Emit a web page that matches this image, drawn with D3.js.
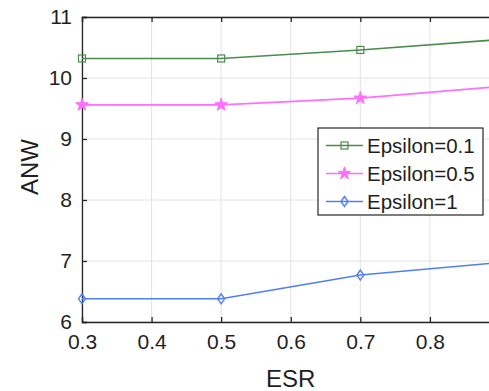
<!DOCTYPE html>
<html><head><meta charset="utf-8">
<script src="https://cdn.jsdelivr.net/npm/d3@7"></script>
<style>body{margin:0;background:#fff}svg{display:block}text{font-family:"Liberation Sans",Arial,sans-serif;fill:#1f1f1f}</style>
</head><body><svg id="c" width="489" height="391"></svg>
<script>
const esr = [0.3, 0.5, 0.7, 0.9];
const eps01 = [10.32, 10.32, 10.46, 10.63];
const eps05 = [9.56, 9.56, 9.67, 9.86];
const eps1 = [6.38, 6.38, 6.77, 6.975];
const seriesNames = ["Epsilon=0.1", "Epsilon=0.5", "Epsilon=1"];
const xTicks = [0.3, 0.4, 0.5, 0.6, 0.7, 0.8, 0.9];
const yTicks = [6, 7, 8, 9, 10, 11];

const series = [
  {name: seriesNames[0], vals: eps01, color: "#4d8a4d", marker: "square"},
  {name: seriesNames[1], vals: eps05, color: "#ff6eff", marker: "star"},
  {name: seriesNames[2], vals: eps1, color: "#4f7ff5", marker: "diamond"}
];

const svg = d3.select("#c");
const L = 82, R = 499.5, T = 17, B = 322;
const x = d3.scaleLinear().domain([0.3, 0.9]).range([L, R]);
const y = d3.scaleLinear().domain([6, 11]).range([B, T]);

// grid
const g = svg.append("g");
g.selectAll(".gx").data(xTicks).enter().append("line")
  .attr("x1", d => x(d)).attr("x2", d => x(d)).attr("y1", T).attr("y2", B)
  .attr("stroke", "#e2e2e2").attr("stroke-width", 1);
g.selectAll(".gy").data(yTicks).enter().append("line")
  .attr("x1", L).attr("x2", R).attr("y1", d => y(d)).attr("y2", d => y(d))
  .attr("stroke", "#e2e2e2").attr("stroke-width", 1);

// axes
const ax = "#262626";
const axBottom = svg.append("g").attr("transform", `translate(0,${B})`)
  .call(d3.axisBottom(x).tickValues(xTicks.slice(0, 6)).tickSize(-5).tickPadding(12).tickFormat(d3.format(".1f")));
const axTop = svg.append("g").attr("transform", `translate(0,${T})`)
  .call(d3.axisTop(x).tickValues(xTicks).tickSize(-5).tickFormat(""));
const axLeft = svg.append("g").attr("transform", `translate(${L},0)`)
  .call(d3.axisLeft(y).tickValues(yTicks).tickSize(-5).tickPadding(10).tickFormat(d3.format("d")));
[axBottom, axTop, axLeft].forEach(a => {
  a.select(".domain").attr("stroke", ax).attr("stroke-width", 1.3);
  a.selectAll(".tick line").attr("stroke", ax).attr("stroke-width", 1.3);
  a.selectAll("text").style("font-size", "21px").attr("fill", "#1f1f1f");
});
axBottom.selectAll("text").attr("dy", "0.71em");

// lines
const line = d3.line().x((d, i) => x(esr[i])).y(d => y(d));
function marker(sel, type, color) {
  if (type === "square") {
    sel.append("rect").attr("x", -3.5).attr("y", -3.5).attr("width", 7).attr("height", 7)
      .attr("fill", "none").attr("stroke", color).attr("stroke-width", 1.2);
  } else if (type === "star") {
    sel.append("path").attr("d", d3.symbol().type(d3.symbolStar).size(50)())
      .attr("fill", color).attr("stroke", color).attr("stroke-width", 1);
  } else {
    sel.append("path").attr("d", "M0,-5L3.5,0L0,5L-3.5,0Z")
      .attr("fill", "none").attr("stroke", color).attr("stroke-width", 1.4);
  }
}
series.forEach(s => {
  svg.append("path").datum(s.vals).attr("d", line).attr("fill", "none")
    .attr("stroke", s.color).attr("stroke-width", 1.6);
  s.vals.forEach((v, i) => {
    const m = svg.append("g").attr("transform", `translate(${x(esr[i])},${y(v)})`);
    marker(m, s.marker, s.color);
  });
});

// legend
const lg = svg.append("g");
lg.append("rect").attr("x", 318).attr("y", 128).attr("width", 165).attr("height", 87)
  .attr("fill", "#fff").attr("stroke", ax).attr("stroke-width", 1.2);
series.forEach((s, i) => {
  const cy = 145.5 + i * 28;
  lg.append("line").attr("x1", 326).attr("x2", 363).attr("y1", cy).attr("y2", cy)
    .attr("stroke", s.color).attr("stroke-width", 1.6);
  const m = lg.append("g").attr("transform", `translate(344.5,${cy})`);
  marker(m, s.marker, s.color);
  lg.append("text").attr("x", 367).attr("y", cy).attr("dy", "0.36em")
    .style("font-size", "20.5px").text(s.name);
});

// axis labels
svg.append("text").attr("x", (L + R) / 2).attr("y", 387).attr("text-anchor", "middle")
  .style("font-size", "24px").text("ESR");
svg.append("text").attr("transform", "translate(38,167) rotate(-90)").attr("text-anchor", "middle")
  .style("font-size", "24px").text("ANW");
</script></body></html>
